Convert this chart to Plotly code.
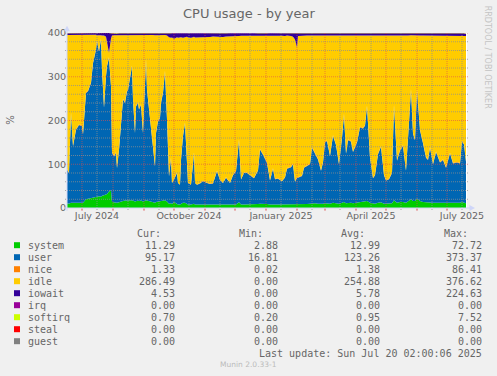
import plotly.graph_objects as go
import pandas as pd

# ---------------- data ----------------
start = pd.Timestamp("2024-06-16 00:00")
end = pd.Timestamp("2025-07-21 00:00")

day_offsets = [
    0, 2, 4, 6, 9, 12, 15, 16, 19, 21,
    24, 26, 29, 30, 32, 34, 35, 37, 39, 40,
    42, 44, 45, 47, 49, 50, 52, 54, 56, 58,
    60, 61, 63, 65, 66, 68, 69, 71, 72, 74,
    76, 77, 79, 80, 82, 84, 86, 88, 89, 91,
    93, 94, 96, 98, 100, 101, 102, 104, 105, 107,
    110, 111, 113, 114, 116, 118, 120, 121, 124, 126,
    127, 128, 130, 133, 136, 140, 143, 146, 150, 153,
    156, 159, 163, 166, 169, 172, 174, 177, 180, 183,
    187, 191, 193, 196, 200, 203, 206, 208, 211, 215,
    218, 220, 224, 226, 228, 230, 231, 235, 237, 240,
    243, 245, 248, 251, 254, 256, 258, 260, 263, 266,
    269, 272, 275, 277, 279, 281, 284, 286, 290, 293,
    296, 298, 300, 303, 306, 308, 311, 314, 317, 319,
    322, 325, 327, 330, 333, 336, 339, 341, 344, 346,
    348, 350, 353, 356, 359, 361, 363, 366, 369, 373,
    376, 379, 383, 386, 390, 393, 395, 397, 399,
]

system = [
    11, 10, 12, 12, 13, 13, 12, 12, 20, 21,
    22, 24, 25, 26, 27, 26, 28, 29, 30, 32,
    38, 40, 14, 13, 13, 12, 13, 15, 16, 17,
    16, 17, 18, 18, 17, 15, 16, 17, 16, 17,
    15, 16, 18, 17, 16, 15, 13, 12, 14, 15,
    15, 16, 17, 18, 15, 12, 10, 11, 9, 14,
    9, 8, 8, 10, 12, 12, 10, 8, 8, 10,
    10, 8, 8, 8, 8, 7, 7, 7, 8, 7,
    7, 8, 7, 8, 8, 13, 8, 8, 8, 8,
    8, 9, 10, 10, 9, 8, 9, 8, 8, 8,
    8, 9, 9, 9, 8, 8, 8, 8, 9, 9,
    10, 11, 11, 10, 9, 10, 11, 11, 10, 12,
    11, 10, 12, 14, 11, 12, 12, 11, 12, 14,
    14, 14, 16, 12, 10, 10, 12, 13, 10, 10,
    10, 11, 18, 12, 14, 14, 12, 16, 20, 16,
    16, 22, 16, 14, 13, 12, 13, 12, 12, 12,
    12, 11, 12, 12, 12, 12, 14, 13, 11,
]

user = [
    77, 70, 205, 129, 166, 177, 175, 156, 243, 246,
    264, 307, 337, 355, 331, 359, 288, 200, 271, 292,
    305, 238, 112, 105, 113, 79, 120, 172, 232, 223,
    251, 253, 275, 306, 231, 156, 216, 223, 209, 219,
    156, 201, 321, 253, 209, 172, 128, 83, 157, 183,
    191, 224, 246, 294, 187, 91, 62, 103, 48, 51,
    71, 49, 45, 100, 152, 182, 100, 49, 45, 100,
    116, 49, 45, 48, 53, 50, 48, 49, 76, 57,
    50, 61, 50, 67, 76, 142, 57, 72, 72, 67,
    60, 77, 124, 112, 94, 55, 81, 58, 59, 53,
    62, 81, 84, 91, 52, 61, 61, 65, 83, 87,
    90, 127, 115, 101, 76, 94, 139, 142, 109, 153,
    133, 90, 148, 200, 113, 143, 140, 117, 138, 170,
    168, 174, 216, 103, 58, 65, 111, 127, 65, 53,
    56, 69, 216, 96, 117, 128, 73, 144, 250, 154,
    139, 248, 162, 134, 102, 98, 125, 88, 116, 92,
    98, 81, 113, 90, 92, 90, 138, 132, 95,
]

nice = [
    1.2, 1.3, 1.5, 1.4, 1.3, 1.2, 1.3, 1.2, 1.6, 1.5,
    1.4, 1.7, 1.8, 1.9, 1.6, 1.8, 1.5, 1.3, 1.6, 1.7,
    1.8, 1.5, 1.2, 1.1, 1.2, 1.1, 1.2, 1.4, 1.5, 1.5,
    1.6, 1.6, 1.7, 1.8, 1.5, 1.3, 1.4, 1.5, 1.4, 1.4,
    1.3, 1.4, 1.7, 1.5, 1.4, 1.3, 1.2, 1.1, 1.3, 1.4,
    1.4, 1.5, 1.6, 1.7, 1.4, 1.2, 1.1, 1.2, 1.0, 1.1,
    1.1, 1.0, 1.0, 1.2, 1.3, 1.4, 1.2, 1.0, 1.0, 1.2,
    1.2, 1.0, 1.0, 1.0, 1.1, 1.0, 1.0, 1.0, 1.1, 1.0,
    1.0, 1.1, 1.0, 1.1, 1.1, 1.4, 1.0, 1.1, 1.1, 1.1,
    1.0, 1.1, 1.3, 1.3, 1.2, 1.0, 1.1, 1.0, 1.0, 1.0,
    1.1, 1.2, 1.2, 1.2, 1.0, 1.1, 1.1, 1.1, 1.2, 1.2,
    1.2, 1.4, 1.3, 1.3, 1.2, 1.2, 1.4, 1.4, 1.3, 1.5,
    1.4, 1.2, 1.4, 1.7, 1.3, 1.4, 1.4, 1.3, 1.4, 1.5,
    1.5, 1.5, 1.7, 1.3, 1.1, 1.1, 1.3, 1.4, 1.1, 1.1,
    1.1, 1.2, 1.7, 1.3, 1.4, 1.4, 1.2, 1.5, 1.9, 1.5,
    1.4, 1.9, 1.5, 1.4, 1.3, 1.3, 1.4, 1.2, 1.3, 1.2,
    1.3, 1.2, 1.3, 1.2, 1.2, 1.2, 1.5, 1.4, 1.33,
]

idle = [
    306, 314, 177, 253, 215, 204, 207, 226, 132, 128,
    109, 64, 32, 12, 36, 8, 77, 164, 89, 54,
    10, 108, 267, 276, 268, 303, 261, 207, 146, 154,
    127, 124, 101, 70, 146, 223, 162, 154, 169, 158,
    223, 177, 55, 124, 169, 207, 253, 299, 223, 196,
    188, 154, 131, 82, 191, 287, 317, 274, 332, 321,
    309, 331, 337, 279, 224, 195, 280, 332, 335, 279,
    264, 332, 336, 334, 328, 333, 335, 335, 306, 327,
    333, 322, 334, 317, 308, 237, 328, 313, 313, 318,
    325, 307, 259, 271, 290, 330, 303, 327, 326, 332,
    322, 303, 299, 290, 324, 297, 323, 320, 301, 297,
    293, 255, 267, 282, 308, 289, 243, 240, 274, 228,
    249, 293, 233, 178, 269, 238, 241, 265, 243, 209,
    211, 205, 161, 278, 325, 317, 270, 253, 318, 330,
    327, 313, 159, 285, 262, 251, 308, 233, 123, 223,
    238, 123, 215, 245, 278, 283, 255, 293, 265, 289,
    283, 301, 268, 291, 289, 291, 240, 248, 286,
]

iowait = [
    4, 4, 4, 4, 4, 4, 4, 4, 3, 3,
    3, 3, 4, 5, 4, 5, 5, 5, 8, 20,
    45, 12, 5, 4, 4, 4, 4, 4, 4, 4,
    4, 4, 4, 4, 4, 4, 4, 4, 4, 4,
    4, 4, 4, 4, 4, 4, 4, 4, 4, 4,
    4, 4, 4, 4, 5, 8, 9, 10, 9, 12,
    9, 10, 8, 9, 10, 9, 8, 9, 10, 9,
    8, 9, 9, 8, 9, 8, 8, 7, 8, 7,
    8, 7, 7, 6, 6, 6, 5, 5, 5, 5,
    5, 5, 5, 5, 5, 5, 5, 5, 5, 5,
    6, 5, 6, 8, 14, 32, 6, 5, 5, 5,
    5, 5, 5, 5, 5, 5, 5, 5, 5, 5,
    5, 5, 5, 6, 5, 5, 5, 5, 5, 5,
    5, 5, 5, 5, 5, 6, 5, 5, 5, 5,
    5, 5, 5, 5, 5, 5, 5, 5, 5, 5,
    5, 5, 5, 5, 5, 5, 5, 5, 5, 5,
    5, 5, 5, 5, 5, 5, 6, 5, 4.53,
]

softirq = [
    0.8, 0.8, 1.1, 0.9, 1.0, 1.0, 1.0, 0.9, 1.2, 1.2,
    1.2, 1.3, 1.4, 1.4, 1.3, 1.4, 1.3, 1.1, 1.3, 1.3,
    1.4, 1.2, 0.9, 0.9, 0.9, 0.8, 0.9, 1.0, 1.1, 1.1,
    1.2, 1.2, 1.2, 1.3, 1.1, 1.0, 1.1, 1.1, 1.1, 1.1,
    1.0, 1.1, 1.3, 1.2, 1.1, 1.0, 0.9, 0.8, 1.0, 1.0,
    1.1, 1.1, 1.2, 1.3, 1.1, 0.9, 0.8, 0.9, 0.7, 0.8,
    0.8, 0.7, 0.7, 0.9, 1.0, 1.0, 0.9, 0.7, 0.7, 0.9,
    0.9, 0.7, 0.7, 0.7, 0.8, 0.7, 0.7, 0.7, 0.8, 0.7,
    0.7, 0.8, 0.7, 0.8, 0.8, 1.0, 0.7, 0.8, 0.8, 0.8,
    0.7, 0.8, 0.9, 0.9, 0.8, 0.7, 0.8, 0.7, 0.7, 0.7,
    0.8, 0.8, 0.8, 0.8, 0.7, 0.8, 0.8, 0.8, 0.8, 0.8,
    0.8, 0.9, 0.9, 0.8, 0.8, 0.8, 0.9, 0.9, 0.8, 1.0,
    0.9, 0.8, 1.0, 1.1, 0.9, 1.0, 1.0, 0.9, 1.0, 1.1,
    1.1, 1.1, 1.2, 0.9, 0.8, 0.8, 0.9, 1.0, 0.8, 0.7,
    0.7, 0.8, 1.2, 0.9, 1.0, 1.0, 0.8, 1.1, 1.4, 1.1,
    1.0, 1.4, 1.1, 1.0, 0.9, 0.9, 1.0, 0.8, 0.9, 0.8,
    0.9, 0.8, 0.9, 0.8, 0.8, 0.8, 1.0, 0.9, 0.7,
]

series_names = ["system", "user", "nice", "idle", "iowait", "irq", "softirq", "steal", "guest"]
series_colors = ["#00CC00", "#0066B3", "#FF8000", "#FFCC00", "#330099",
                 "#990099", "#CCFF00", "#FF0000", "#808080"]
cur_vals = [11.29, 95.17, 1.33, 286.49, 4.53, 0.00, 0.70, 0.00, 0.00]
min_vals = [2.88, 16.81, 0.02, 0.00, 0.00, 0.00, 0.20, 0.00, 0.00]
avg_vals = [12.99, 123.26, 1.38, 254.88, 5.78, 0.00, 0.95, 0.00, 0.00]
max_vals = [72.72, 373.37, 86.41, 376.62, 224.63, 0.00, 7.52, 0.00, 0.00]

x_tick_dates = ["2024-07-16", "2024-10-16", "2025-01-16", "2025-04-16", "2025-07-16"]
x_tick_labels = ["July 2024", "October 2024", "January 2025", "April 2025", "July 2025"]
y_tick_vals = [0, 100, 200, 300, 400]

title_text = "CPU usage - by year"
y_label = "%"
last_update = "Last update: Sun Jul 20 02:00:06 2025"
watermark = "Munin 2.0.33-1"
signature = "RRDTOOL / TOBI OETIKER"

# ---------------- layout geometry (pixels) ----------------
W, H = 497, 376
PL, PR, PT, PB = 67, 467, 33.3, 208.3
PW, PH = PR - PL, PB - PT
FONT_COLOR = "#666666"
AXIS_COLOR = "#CFD6F8"
GRID_MINOR = "rgba(143,143,143,0.75)"
GRID_MAJOR = "rgba(222,79,79,0.6)"


def px(x):
    return (x - PL) / PW


def py(y):
    return (PB - y) / PH


x_dates = start + pd.to_timedelta(day_offsets, unit="D")

fig = go.Figure()
stack = [
    ("system", system, "#00CC00"),
    ("user", user, "#0066B3"),
    ("nice", nice, "#FF8000"),
    ("idle", idle, "#FFCC00"),
    ("iowait", iowait, "#330099"),
    ("softirq", softirq, "#CCFF00"),
]
for name, vals, col in stack:
    fig.add_trace(go.Scatter(
        x=x_dates, y=vals, name=name, mode="lines",
        stackgroup="cpu", line=dict(width=0, color=col),
        fillcolor=col, hoverinfo="skip", showlegend=False,
    ))

shapes = []
# horizontal grid lines, drawn over the data like rrdtool does
for v in range(20, 401, 20):
    shapes.append(dict(type="line", xref="paper", yref="y",
                       x0=-2 / PW, x1=1 + 2 / PW, y0=v, y1=v, layer="above",
                       line=dict(color=GRID_MAJOR if v % 100 == 0 else GRID_MINOR,
                                 width=1, dash="1px,1px")))
# vertical grid lines: month starts (major) and mid-month (minor)
month_starts = pd.date_range("2024-07-01", "2025-07-01", freq="MS")
for m in month_starts:
    mid = m + pd.Timedelta(days=15)
    if mid < end:
        shapes.append(dict(type="line", xref="x", yref="paper",
                           x0=mid, x1=mid, y0=-2 / PH, y1=1, layer="above",
                           line=dict(color=GRID_MINOR, width=1, dash="1px,1px")))
    shapes.append(dict(type="line", xref="x", yref="paper",
                       x0=m, x1=m, y0=-2 / PH, y1=1, layer="above",
                       line=dict(color=GRID_MAJOR, width=1, dash="1px,1px")))
    shapes.append(dict(type="line", xref="x", yref="paper",
                       x0=m, x1=m, y0=-3 / PH, y1=0, layer="above",
                       line=dict(color=GRID_MAJOR, width=1)))

# axes with arrows
shapes.append(dict(type="line", xref="paper", yref="paper",
                   x0=px(64), x1=px(471), y0=0, y1=0, layer="above",
                   line=dict(color=AXIS_COLOR, width=1)))
shapes.append(dict(type="line", xref="paper", yref="paper",
                   x0=0, x1=0, y0=py(211), y1=py(29), layer="above",
                   line=dict(color=AXIS_COLOR, width=1)))
shapes.append(dict(type="path", xref="paper", yref="paper", layer="above",
                   path=f"M {px(475)} {py(PB)} L {px(469.5)} {py(PB - 3)} L {px(469.5)} {py(PB + 3)} Z",
                   fillcolor=AXIS_COLOR, line=dict(width=0)))
shapes.append(dict(type="path", xref="paper", yref="paper", layer="above",
                   path=f"M {px(PL)} {py(26)} L {px(PL - 3)} {py(31.5)} L {px(PL + 3)} {py(31.5)} Z",
                   fillcolor=AXIS_COLOR, line=dict(width=0)))

annotations = []
annotations.append(dict(text=title_text, xref="paper", yref="paper",
                        x=px(248.5), y=py(13.5), xanchor="center", yanchor="middle",
                        showarrow=False, font=dict(family="DejaVu Sans", size=13, color=FONT_COLOR)))
annotations.append(dict(text=y_label, xref="paper", yref="paper",
                        x=px(11), y=py(120), xanchor="center", yanchor="middle", textangle=-90,
                        showarrow=False, font=dict(family="DejaVu Sans", size=10, color=FONT_COLOR)))
annotations.append(dict(text=signature, xref="paper", yref="paper",
                        x=px(487), y=py(57), xanchor="center", yanchor="middle", textangle=90,
                        showarrow=False, font=dict(family="DejaVu Sans", size=8, color="#C4C4C4")))
annotations.append(dict(text=watermark, xref="paper", yref="paper",
                        x=px(248.5), y=py(365), xanchor="center", yanchor="middle",
                        showarrow=False, font=dict(family="DejaVu Sans", size=7.5, color="#BBBBBB")))

MONO = dict(family="DejaVu Sans Mono", size=10, color=FONT_COLOR)
header = [("Cur:", 162.5), ("Min:", 265), ("Avg:", 367), ("Max:", 469.5)]
for txt, xr in header:
    annotations.append(dict(text=txt, xref="paper", yref="paper", x=px(xr), y=py(233.7),
                            xanchor="right", yanchor="middle", showarrow=False, font=MONO))
col_right = [176.5, 279.5, 381.5, 483.5]
for i, name in enumerate(series_names):
    yy = 245.7 + 12 * i
    shapes.append(dict(type="rect", xref="paper", yref="paper",
                       x0=px(14), x1=px(20), y0=py(yy - 3.2), y1=py(yy + 2.8),
                       fillcolor=series_colors[i], line=dict(width=0), layer="above"))
    annotations.append(dict(text=name, xref="paper", yref="paper", x=px(26), y=py(yy),
                            xanchor="left", yanchor="middle", showarrow=False, font=MONO))
    for vals, xr in zip([cur_vals, min_vals, avg_vals, max_vals], col_right):
        annotations.append(dict(text=f"{vals[i]:.2f}", xref="paper", yref="paper",
                                x=px(xr), y=py(yy), xanchor="right", yanchor="middle",
                                showarrow=False, font=MONO))
annotations.append(dict(text=last_update, xref="paper", yref="paper", x=px(483.5), y=py(353.7),
                        xanchor="right", yanchor="middle", showarrow=False, font=MONO))

fig.update_layout(
    width=W, height=H, autosize=False,
    margin=dict(l=PL, r=W - PR, t=PT, b=H - PB, pad=0),
    paper_bgcolor="#F0F0F0", plot_bgcolor="#FFFFFF",
    showlegend=False,
    shapes=shapes, annotations=annotations,
    xaxis=dict(type="date", range=[start, end], showgrid=False, zeroline=False,
               showline=False, tickvals=x_tick_dates, ticktext=x_tick_labels,
               ticks="", tickfont=dict(family="DejaVu Sans", size=9.5, color=FONT_COLOR),
               fixedrange=True),
    yaxis=dict(range=[0, 400], showgrid=False, zeroline=False, showline=False,
               tickvals=y_tick_vals, ticks="", ticklen=0,
               tickfont=dict(family="DejaVu Sans", size=9.5, color=FONT_COLOR),
               fixedrange=True),
)

fig.write_html("out.html")
